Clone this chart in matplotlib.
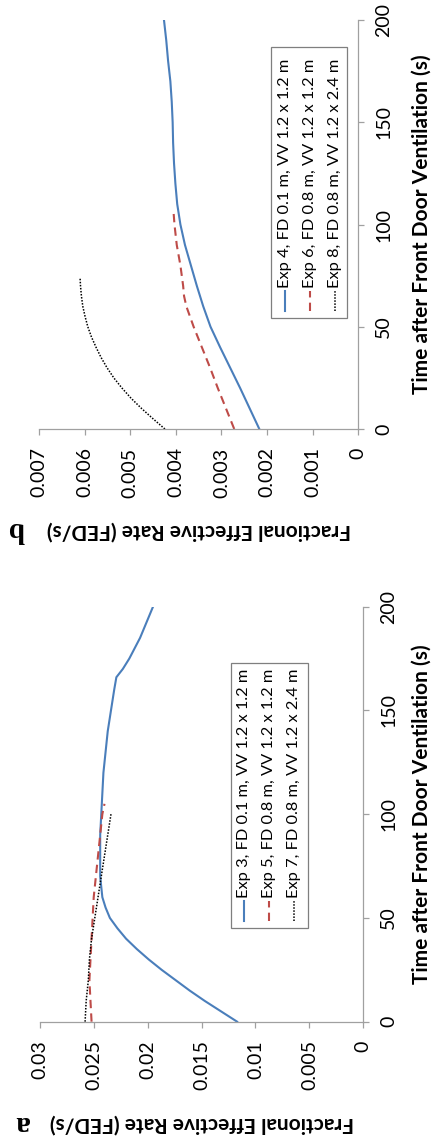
import matplotlib
matplotlib.use("Agg")
import matplotlib.pyplot as plt
from matplotlib.lines import Line2D
from matplotlib.patches import Rectangle

plt.rcParams['font.family'] = ['Lato', 'DejaVu Sans']

# Panel a: FD 0.1/0.8 m with different vent sizes
time_a3 = [0, 5, 10, 15, 20, 25, 30, 35, 40, 45, 50, 55, 60, 65, 70, 80, 90, 100,
           110, 120, 130, 140, 150, 160, 166, 170, 175, 180, 185, 190, 195, 200]
fed_a3 = [0.0117, 0.0132, 0.0147, 0.0161, 0.0174, 0.0187, 0.0199, 0.0210, 0.0220,
          0.0228, 0.0235, 0.0239, 0.0242, 0.0243, 0.0244, 0.0244, 0.0244, 0.0243,
          0.0242, 0.0241, 0.0239, 0.0237, 0.0234, 0.0231, 0.0229, 0.0223, 0.0217,
          0.0212, 0.0207, 0.0203, 0.0199, 0.0195]
time_a5 = [0, 10, 20, 30, 40, 50, 60, 70, 80, 90, 100, 105]
fed_a5 = [0.0252, 0.0253, 0.0254, 0.0253, 0.0252, 0.0251, 0.0250, 0.0248, 0.0246,
          0.0244, 0.0242, 0.0240]
time_a7 = [0, 10, 20, 30, 40, 50, 60, 70, 80, 90, 100]
fed_a7 = [0.0258, 0.0257, 0.0255, 0.0254, 0.0252, 0.0249, 0.0246, 0.0243, 0.0240,
          0.0237, 0.0234]

# Panel b
time_b4 = [0, 10, 20, 30, 40, 50, 60, 70, 80, 90, 100, 110, 120, 130, 140, 150,
           160, 170, 180, 190, 200]
fed_b4 = [0.00217, 0.00238, 0.00259, 0.00281, 0.00303, 0.00324, 0.00340, 0.00354,
          0.00367, 0.00380, 0.00390, 0.00397, 0.00401, 0.00404, 0.00406, 0.00407,
          0.00409, 0.00412, 0.00417, 0.00421, 0.00426]
time_b6 = [0, 10, 20, 30, 40, 50, 60, 65, 70, 80, 90, 100, 106]
fed_b6 = [0.00272, 0.00290, 0.00308, 0.00325, 0.00343, 0.00361, 0.00377, 0.00382,
          0.00384, 0.00390, 0.00398, 0.00403, 0.00405]
time_b8 = [0, 5, 10, 15, 20, 25, 30, 35, 40, 45, 50, 55, 60, 65, 70, 74]
fed_b8 = [0.00424, 0.00450, 0.00475, 0.00498, 0.00518, 0.00536, 0.00551, 0.00564,
          0.00575, 0.00585, 0.00593, 0.00599, 0.00604, 0.00607, 0.00609, 0.00610]

labels_a = ['Exp 3, FD 0.1 m, VV 1.2 x 1.2 m',
            'Exp 5, FD 0.8 m, VV 1.2 x 1.2 m',
            'Exp 7, FD 0.8 m, VV 1.2 x 2.4 m']
labels_b = ['Exp 4, FD 0.1 m, VV 1.2 x 1.2 m',
            'Exp 6, FD 0.8 m, VV 1.2 x 1.2 m',
            'Exp 8, FD 0.8 m, VV 1.2 x 2.4 m']

ticks_a = [0, 0.005, 0.01, 0.015, 0.02, 0.025, 0.03]
ticks_b = [0, 0.001, 0.002, 0.003, 0.004, 0.005, 0.006, 0.007]
time_ticks = [0, 50, 100, 150, 200]

xlabel = 'Time after Front Door Ventilation (s)'
ylabel = 'Fractional Effective Rate (FED/s)'

styles = [dict(color='#4a7ebb', lw=1.5, ls='-'),
          dict(color='#be4b48', lw=1.5, ls=(0, (4, 2.5))),
          dict(color='black', lw=1.1, ls=(0, (1, 1)))]

W, H = 432, 1136
GRAY = '#a0a0a0'
fig = plt.figure(figsize=(W / 100, H / 100), dpi=100)


def fx(x):
    return x / W


def fy(y):
    return 1 - y / H


# the chart is drawn turned a quarter turn: time runs upward, FED runs leftward
def setup(ax, fed_ticks):
    ax.set_xlim(fed_ticks[-1], 0)
    ax.set_ylim(0, 200)
    for s in ['left', 'top']:
        ax.spines[s].set_visible(False)
    for s in ['right', 'bottom']:
        ax.spines[s].set_color(GRAY)
        ax.spines[s].set_linewidth(0.9)
    ax.yaxis.tick_right()
    ax.set_xticks(fed_ticks, labels=[f'{v:g}' for v in fed_ticks],
                  rotation=90, ha='center', va='top')
    ax.set_yticks(time_ticks, labels=[str(t) for t in time_ticks],
                  rotation=90, ha='left', va='center')
    ax.tick_params(direction='out', length=4.3, width=0.9, color=GRAY,
                   labelsize=14)
    ax.tick_params(axis='x', pad=9)
    ax.tick_params(axis='y', pad=8)
    ax.patch.set_visible(False)


def legend(box, labels):
    x0, y0, x1, y1 = box
    fig.add_artist(Rectangle((fx(x0), fy(y1)), fx(x1 - x0), (y1 - y0) / H,
                             transform=fig.transFigure, facecolor='white',
                             edgecolor='#7f7f7f', lw=0.9))
    for i, (lab, st) in enumerate(zip(labels, styles)):
        cx = x0 + 13.2 + 25.2 * i
        fig.add_artist(Line2D([fx(cx), fx(cx)], [fy(y1 - 7), fy(y1 - 27)],
                              transform=fig.transFigure, **st))
        fig.text(fx(cx), fy(y1 - 30), lab, rotation=90, rotation_mode='anchor',
                 ha='left', va='center', fontsize=11.8)


ax_a = fig.add_axes([fx(39.8), fy(1021.7), 323.5 / W, 415 / H])
ax_b = fig.add_axes([fx(39), fy(429), 319.3 / W, 409 / H])

setup(ax_a, ticks_a)
setup(ax_b, ticks_b)

for t, v, st in zip([time_a3, time_a5, time_a7], [fed_a3, fed_a5, fed_a7], styles):
    ax_a.plot(v, t, **st)
for t, v, st in zip([time_b4, time_b6, time_b8], [fed_b4, fed_b6, fed_b8], styles):
    ax_b.plot(v, t, **st)

legend((230.7, 663.3, 308.3, 927.7), labels_a)
legend((271.3, 46.7, 347.3, 318.3), labels_b)

# axis titles
fig.text(fx(422), fy(814.2), xlabel, rotation=90, ha='center', va='center',
         fontsize=15, fontweight='bold')
fig.text(fx(422), fy(224.5), xlabel, rotation=90, ha='center', va='center',
         fontsize=15, fontweight='bold')
fig.text(fx(201.5), fy(1123), ylabel, rotation=180, ha='center', va='center',
         fontsize=15, fontweight='bold')
fig.text(fx(198.7), fy(530), ylabel, rotation=180, ha='center', va='center',
         fontsize=15, fontweight='bold')

# panel letters
fig.text(fx(22), fy(1123), 'a', rotation=180, ha='center', va='center',
         fontsize=21, fontweight='bold', family='Liberation Serif')
fig.text(fx(16), fy(530), 'b', rotation=180, ha='center', va='center',
         fontsize=21, fontweight='bold', family='Liberation Serif')

fig.savefig('out.png', dpi=100)
